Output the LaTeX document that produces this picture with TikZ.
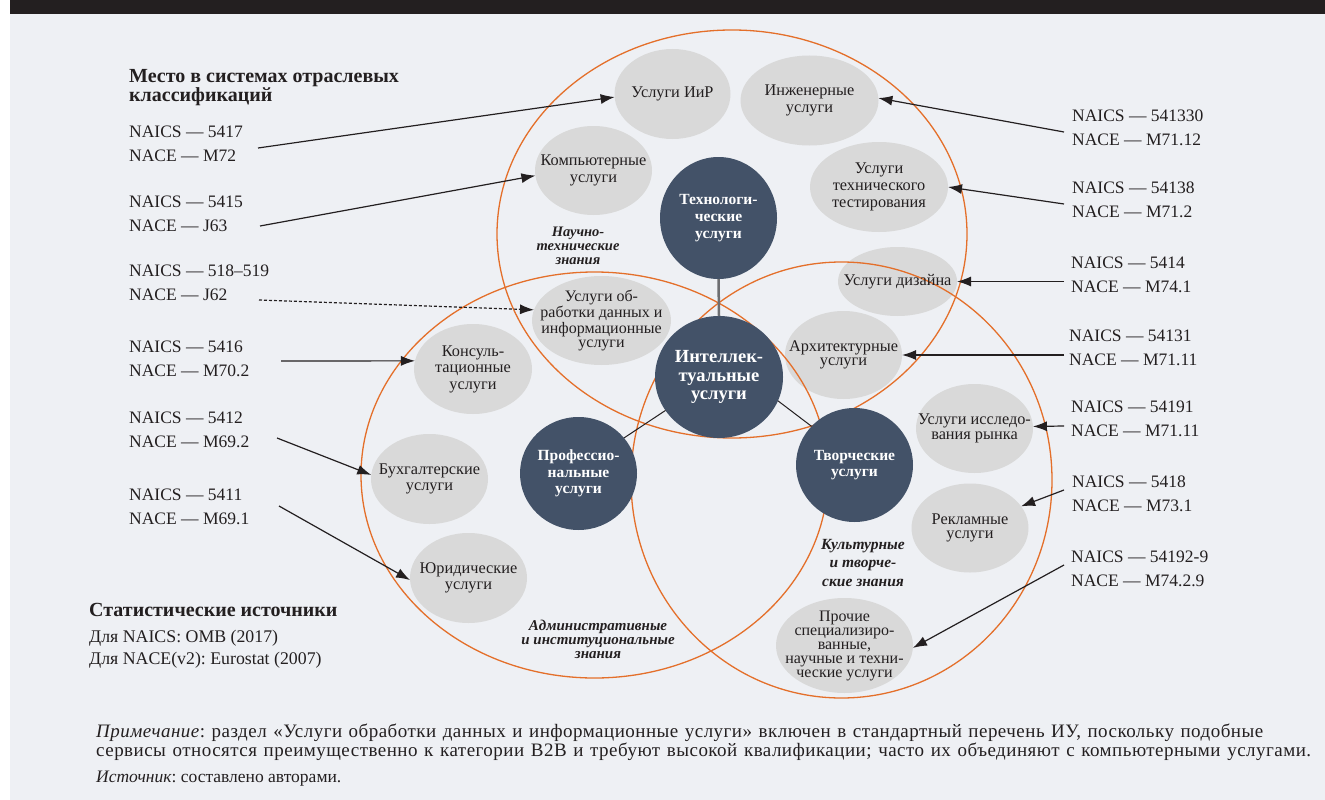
\documentclass[tikz,border=0pt]{standalone}
\usepackage{fontspec}
\setmainfont{Liberation Serif}
\frenchspacing
\usetikzlibrary{shapes.geometric, arrows.meta}
\definecolor{bgc}{HTML}{EEF0F4}
\definecolor{ellc}{HTML}{D9D9D9}
\definecolor{darkc}{HTML}{435268}
\definecolor{orc}{HTML}{E46F2A}
\definecolor{txt}{HTML}{231F20}
\definecolor{barc}{HTML}{231F20}
\definecolor{linkc}{HTML}{6D6E71}
\begin{document}
\begin{tikzpicture}[x=1pt,y=-1pt,
 gell/.style={ellipse, fill=ellc, inner sep=0pt, outer sep=0pt},
 dell/.style={ellipse, fill=darkc, inner sep=0pt, outer sep=0pt},
 gtxt/.style={align=center, text=txt, font=\fontsize{16.3}{16.5}\selectfont, inner sep=0pt},
 dtxt/.style={align=center, text=white, font=\bfseries\fontsize{15.5}{16.7}\selectfont, inner sep=0pt},
 lab/.style={align=left, anchor=west, text=txt, font=\fontsize{17.5}{23.5}\selectfont, inner sep=0pt},
 area/.style={align=center, text=txt, font=\bfseries\itshape\fontsize{15}{14}\selectfont, inner sep=0pt},
 arr/.style={-{Latex[length=14pt,width=10pt]}, line width=1.2pt, draw=txt},
 ring/.style={draw=orc, line width=1.3pt},
 link/.style={draw=txt, line width=1pt}
]
\useasboundingbox (0,0) rectangle (1325,800);
\fill[white] (0,0) rectangle (1325,800);
\fill[bgc] (10,0) rectangle (1325,800);
\fill[barc] (10,0) rectangle (1325,14);

% gray ellipses
\node[gell, minimum width=116pt, minimum height=90pt] (ir) at (672.5,94) {};
\node[gell, minimum width=138pt, minimum height=90pt] (eng) at (809.5,100.5) {};
\node[gell, minimum width=117pt, minimum height=89pt] (comp) at (593.5,170.5) {};
\node[gell, minimum width=138pt, minimum height=90pt] (test) at (879,187) {};
\node[gell, minimum width=139pt, minimum height=89pt] (data) at (601.5,320.5) {};
\node[gell, minimum width=118pt, minimum height=90pt] (cons) at (473,369) {};
\node[gell, minimum width=117pt, minimum height=90pt] (acc) at (429.5,479) {};
\node[gell, minimum width=117pt, minimum height=90pt] (law) at (468.5,578) {};
\node[gell, minimum width=119pt, minimum height=69pt] (des) at (897.5,281.5) {};
\node[gell, minimum width=117pt, minimum height=88pt] (arch) at (843.5,355) {};
\node[gell, minimum width=117pt, minimum height=89pt] (mkt) at (974.5,428.5) {};
\node[gell, minimum width=117pt, minimum height=89pt] (adv) at (970,528) {};
\node[gell, minimum width=137pt, minimum height=95pt] (oth) at (844.5,645.5) {};

% orange rings
\draw[ring] (732,234) ellipse [x radius=235pt, y radius=204pt];
\draw[ring] (594.5,475) ellipse [x radius=233.5pt, y radius=203pt];
\draw[ring] (841.5,480) ellipse [x radius=210.5pt, y radius=218pt];

% gray texts
\node[gtxt] (irt) at (ir) {Услуги ИиР};
\node[gtxt] (engt) at (eng) {Инженерные\\услуги};
\node[gtxt] (compt) at (comp) {Компьютерные\\услуги};
\node[gtxt, font=\fontsize{16.3}{17.3}\selectfont] (testt) at (test) {Услуги\\технического\\тестирования};
\node[gtxt, font=\fontsize{16}{14.3}\selectfont] (datat) at (data) {Услуги об-\\работки данных и\\информационные\\услуги};
\node[gtxt] (const) at (cons) {Консуль-\\тационные\\услуги};
\node[gtxt] (acct) at (acc) {Бухгалтерские\\услуги};
\node[gtxt] (lawt) at (law) {Юридические\\услуги};
\node[gtxt] (dest) at (des) {Услуги дизайна};
\node[gtxt, font=\fontsize{16.3}{14.5}\selectfont] (archt) at (arch) {Архитектурные\\услуги};
\node[gtxt, font=\fontsize{16.3}{14.5}\selectfont] (mktt) at (mkt) {Услуги исследо-\\вания рынка};
\node[gtxt, font=\fontsize{16.3}{14.5}\selectfont] (advt) at (adv) {Рекламные\\услуги};
\node[gtxt, font=\fontsize{16}{14}\selectfont] (otht) at (oth) {Прочие\\специализиро-\\ванные,\\научные и техни-\\ческие услуги};

% area labels
\node[area, font=\bfseries\itshape\fontsize{14.5}{14}\selectfont] (a1) at (578,246) {Научно-\\технические\\знания};
\node[area] (a2) at (598,639) {Административные\\и институциональные\\знания};
\node[area, font=\bfseries\itshape\fontsize{15.5}{18.5}\selectfont] (a3) at (863,563) {Культурные\\и творче-\\ские знания};

% dark nodes
\node[dell, minimum width=117pt, minimum height=122pt] (tech) at (718.5,218) {};
\node[dell, minimum width=128pt, minimum height=122pt] (intel) at (719,377) {};
\node[dell, minimum width=117pt, minimum height=113pt] (prof) at (578.5,473.5) {};
\node[dell, minimum width=117pt, minimum height=114pt] (creat) at (854.5,465) {};

% connectors between dark nodes
\draw[draw=linkc, line width=2.5pt] (tech.south) -- (intel.north);
\draw[link] (intel.212) -- (prof.38);
\draw[link] (intel.-22) -- (creat.138);

\node[dtxt] (techt) at (tech) {Технологи-\\ческие\\услуги};
\node[dtxt, font=\bfseries\fontsize{18.5}{18.3}\selectfont] (intelt) at (intel) {Интеллек-\\туальные\\услуги};
\node[dtxt] (proft) at (prof) {Профессио-\\нальные\\услуги};
\node[dtxt] (creatt) at (creat) {Творческие\\услуги};

% header texts
\node[anchor=west, align=left, text=txt, inner sep=0pt, font=\bfseries\fontsize{20}{18}\selectfont] (title) at (129,88) {Место в системах отраслевых\\классификаций};

\node[lab] (l1) at (129,144) {NAICS — 5417\\NACE — M72};
\node[lab] (l2) at (129,214) {NAICS — 5415\\NACE — J63};
\node[lab] (l3) at (129,283) {NAICS — 518–519\\NACE — J62};
\node[lab] (l4) at (129,359) {NAICS — 5416\\NACE — M70.2};
\node[lab] (l5) at (129,430) {NAICS — 5412\\NACE — M69.2};
\node[lab] (l6) at (129,507) {NAICS — 5411\\NACE — M69.1};

\node[lab] (r1) at (1072,128) {NAICS — 541330\\NACE — M71.12};
\node[lab] (r2) at (1072,200) {NAICS — 54138\\NACE — M71.2};
\node[lab] (r3) at (1071,275) {NAICS — 5414\\NACE — M74.1};
\node[lab] (r4) at (1069,348) {NAICS — 54131\\NACE — M71.11};
\node[lab] (r5) at (1071,419) {NAICS — 54191\\NACE — M71.11};
\node[lab] (r6) at (1072,494) {NAICS — 5418\\NACE — M73.1};
\node[lab] (r7) at (1071,569) {NAICS — 54192-9\\NACE — M74.2.9};

\node[anchor=base west, text=txt, inner sep=0pt, font=\bfseries\fontsize{20}{20}\selectfont] (stat) at (89,616) {Статистические источники};
\node[lab, font=\fontsize{17.8}{22}\selectfont] (src) at (89,649.5) {Для NAICS: OMB (2017)\\Для NACE(v2): Eurostat (2007)};

\node[anchor=west, align=left, text=txt, inner sep=0pt, font=\fontsize{19}{19.5}\selectfont\addfontfeature{LetterSpace=2.5}] (note) at (96,742) {\makebox[1167pt][s]{\textit{Примечание}: раздел «Услуги обработки данных и информационные услуги» включен в стандартный перечень ИУ, поскольку подобные}\\\makebox[1215pt][s]{сервисы относятся преимущественно к категории B2B и требуют высокой квалификации; часто их объединяют с компьютерными услугами.}};
\node[anchor=base west, text=txt, inner sep=0pt, font=\fontsize{17.5}{19.5}\selectfont] (srcnote) at (96,782) {\textit{Источник}: составлено авторами.};

% arrow start points
\coordinate (s1) at (258,148);
\coordinate (s2) at (260,226);
\coordinate (s3) at (259,300);
\coordinate (s4) at (281,361);
\coordinate (s5) at (277,438);
\coordinate (s6) at (279,506);
\coordinate (s7) at (1064,132);
\coordinate (s8) at (1064,204);
\coordinate (s9) at (1064,281.5);
\coordinate (s10) at (1064,355);
\coordinate (s11) at (1064,426);
\coordinate (s12) at (1064,490);
\coordinate (s13) at (1064,565);

\draw[arr] (s1) -- (ir.183);
\draw[arr] (s2) -- (comp.185);
\draw[arr, dash pattern=on 3pt off 2pt] (s3) -- (data.171);
\draw[arr] (s4) -- (cons.172);
\draw[arr] (s5) -- (acc.176);
\draw[arr] (s6) -- (law.182);
\draw[arr] (s7) -- (eng.2);
\draw[arr] (s8) -- (test.east);
\draw[arr] (s9) -- (des.east);
\draw[arr] (s10) -- (arch.east);
\draw[arr] (s11) -- (mkt.2);
\draw[arr] (s12) -- (adv.23);
\draw[arr] (s13) -- (oth.358);
\end{tikzpicture}
\end{document}
